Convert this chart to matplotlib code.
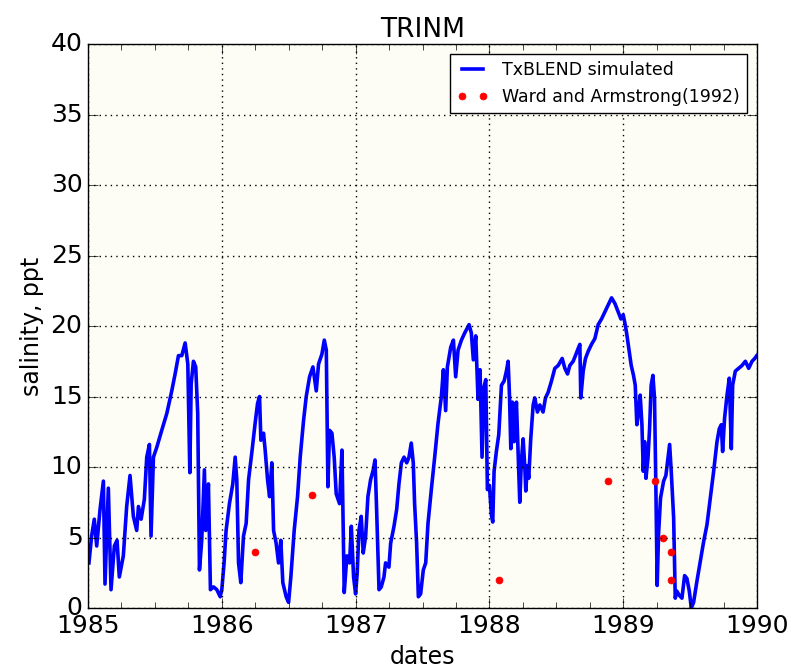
import numpy as np
import matplotlib
matplotlib.use("Agg")
import matplotlib.pyplot as plt
from matplotlib.ticker import MultipleLocator

# TxBLEND simulated salinity (decimal year, ppt)
sim_t = [1985.007, 1985.027, 1985.047, 1985.065, 1985.090, 1985.115, 1985.127, 1985.152,
         1985.172, 1985.197, 1985.217, 1985.234, 1985.264, 1985.289, 1985.314, 1985.339,
         1985.364, 1985.377, 1985.397, 1985.421, 1985.439, 1985.459, 1985.471, 1985.489,
         1985.514, 1985.551, 1985.589, 1985.626, 1985.651, 1985.676, 1985.701, 1985.726,
         1985.746, 1985.761, 1985.771, 1985.788, 1985.805, 1985.820, 1985.833, 1985.850,
         1985.870, 1985.880, 1985.900, 1985.915, 1985.938, 1985.963, 1985.988,
         1986.000, 1986.017, 1986.032, 1986.057, 1986.082, 1986.100, 1986.112, 1986.125,
         1986.142, 1986.162, 1986.182, 1986.200, 1986.224, 1986.249, 1986.267, 1986.282,
         1986.292, 1986.312, 1986.324, 1986.342, 1986.357, 1986.374, 1986.387, 1986.406,
         1986.424, 1986.441, 1986.456, 1986.481, 1986.499, 1986.516, 1986.541, 1986.566,
         1986.586, 1986.611, 1986.631, 1986.656, 1986.681, 1986.706, 1986.723, 1986.748,
         1986.766, 1986.781, 1986.793, 1986.805, 1986.823, 1986.840, 1986.855, 1986.880,
         1986.898, 1986.915, 1986.935, 1986.955, 1986.968, 1986.985,
         1987.000, 1987.012, 1987.025, 1987.042, 1987.057, 1987.075, 1987.092, 1987.112,
         1987.132, 1987.145, 1987.157, 1987.175, 1987.192, 1987.212, 1987.224, 1987.249,
         1987.262, 1987.287, 1987.307, 1987.324, 1987.342, 1987.362, 1987.382, 1987.399,
         1987.416, 1987.431, 1987.441, 1987.456, 1987.469, 1987.486, 1987.506, 1987.524,
         1987.541, 1987.566, 1987.591, 1987.616, 1987.641, 1987.656, 1987.673, 1987.686,
         1987.711, 1987.731, 1987.748, 1987.766, 1987.791, 1987.815, 1987.848, 1987.865,
         1987.880, 1987.898, 1987.915, 1987.930, 1987.945, 1987.960, 1987.973, 1987.985,
         1988.000, 1988.015, 1988.025, 1988.035, 1988.052, 1988.070, 1988.090, 1988.110,
         1988.127, 1988.140, 1988.150, 1988.160, 1988.172, 1988.185, 1988.202, 1988.214,
         1988.227, 1988.239, 1988.252, 1988.264, 1988.272, 1988.284, 1988.294, 1988.309,
         1988.327, 1988.339, 1988.359, 1988.377, 1988.401, 1988.419, 1988.439, 1988.464,
         1988.489, 1988.514, 1988.544, 1988.564, 1988.584, 1988.601, 1988.626, 1988.643,
         1988.663, 1988.676, 1988.683, 1988.701, 1988.718, 1988.738, 1988.763, 1988.788,
         1988.813, 1988.838, 1988.863, 1988.888, 1988.913, 1988.938, 1988.963, 1988.983,
         1989.000, 1989.015, 1989.027, 1989.045, 1989.060, 1989.077, 1989.090, 1989.102,
         1989.115, 1989.127, 1989.140, 1989.150, 1989.160, 1989.170, 1989.185, 1989.197,
         1989.209, 1989.222, 1989.234, 1989.244, 1989.254, 1989.264, 1989.279, 1989.302,
         1989.319, 1989.334, 1989.347, 1989.359, 1989.377, 1989.389, 1989.401, 1989.419,
         1989.439, 1989.459, 1989.476, 1989.494, 1989.509, 1989.526, 1989.551, 1989.576,
         1989.601, 1989.626, 1989.651, 1989.676, 1989.701, 1989.718, 1989.733, 1989.743,
         1989.758, 1989.776, 1989.793, 1989.808, 1989.818, 1989.838, 1989.863, 1989.888,
         1989.913, 1989.938, 1989.963, 1989.983, 1989.998]
sim_v = [3.2, 5.1, 6.3, 4.4, 7.0, 9.0, 1.7, 8.5,
         1.3, 4.4, 4.8, 2.2, 3.7, 7.2, 9.4, 6.5,
         5.5, 7.2, 6.3, 7.7, 10.7, 11.6, 5.1, 10.7,
         11.4, 12.6, 13.8, 15.4, 16.6, 17.9, 17.9, 18.8,
         17.3, 9.6, 15.9, 17.5, 17.1, 13.8, 2.7, 4.8,
         9.8, 5.5, 8.8, 1.3, 1.5, 1.3, 0.8,
         1.3, 3.2, 5.5, 7.4, 8.8, 10.7, 9.1, 3.2,
         1.8, 5.1, 6.0, 9.1, 11.0, 13.1, 14.5, 15.0,
         11.9, 12.4, 11.2, 9.1, 7.9, 10.3, 5.5, 4.6,
         3.2, 4.8, 1.8, 0.8, 0.4, 2.2, 5.5, 7.9,
         10.7, 13.3, 15.0, 16.4, 17.1, 15.4, 17.3, 18.0,
         19.0, 18.3, 8.6, 12.6, 12.4, 10.7, 8.1, 7.4,
         11.2, 1.1, 3.7, 3.2, 5.8, 2.2,
         1.0, 2.5, 5.5, 6.5, 3.9, 5.1, 7.9, 9.1,
         9.8, 10.5, 7.0, 1.3, 1.5, 2.2, 3.2, 2.9,
         4.6, 5.8, 7.0, 8.8, 10.3, 10.7, 10.3, 10.7,
         11.7, 10.3, 7.4, 4.6, 0.8, 1.0, 2.7, 3.2,
         6.0, 8.4, 10.7, 13.1, 15.0, 16.9, 14.0, 17.1,
         18.5, 19.0, 16.4, 18.3, 19.0, 19.5, 20.1, 19.5,
         17.6, 19.3, 14.8, 16.9, 10.7, 15.7, 16.2, 8.4,
         8.7, 6.6, 6.1, 9.7, 11.1, 12.3, 15.8, 16.1,
         16.8, 17.5, 15.1, 11.3, 14.6, 11.8, 14.6, 11.1,
         7.5, 10.4, 12.0, 10.1, 8.3, 10.1, 9.2, 12.0,
         14.4, 14.9, 13.9, 14.4, 13.9, 14.9, 15.3, 16.1,
         17.0, 17.2, 17.7, 17.0, 16.6, 17.2, 17.5, 17.9,
         18.4, 18.7, 14.9, 16.8, 17.7, 18.2, 18.7, 19.1,
         20.1, 20.5, 21.0, 21.5, 22.0, 21.6, 21.0, 20.5,
         20.8, 20.1, 19.4, 18.2, 17.2, 16.5, 15.8, 13.0,
         13.9, 15.1, 13.0, 9.7, 11.8, 9.2, 10.6, 12.7,
         15.8, 16.5, 14.9, 8.7, 1.6, 5.2, 7.8, 9.0,
         9.4, 10.6, 11.6, 9.7, 6.4, 0.7, 1.2, 0.9,
         0.7, 2.3, 2.1, 1.2, 0.0, 0.4, 1.9, 3.3,
         4.7, 5.9, 7.8, 9.7, 11.8, 12.7, 13.0, 11.1,
         13.5, 15.1, 16.3, 11.3, 15.8, 16.8, 17.0, 17.2,
         17.5, 17.0, 17.5, 17.7, 17.9]

# Ward and Armstrong (1992) observations
obs_t = [1986.249, 1986.673, 1988.068, 1988.885, 1989.238, 1989.295, 1989.355, 1989.355]
obs_v = [4.0, 8.0, 2.0, 9.0, 9.0, 5.0, 4.0, 2.0]

year_ticks = [1985, 1986, 1987, 1988, 1989, 1990]

plt.style.use('classic')
fig = plt.figure(figsize=(7.95, 6.72), dpi=100, facecolor='white')
ax = fig.add_axes([0.1107, 0.0952, 0.8415, 0.8393])
ax.set_facecolor('#fdfdf6')

ax.plot(sim_t, sim_v, '-', color='blue', lw=2.6, label='TxBLEND simulated')
ax.plot(obs_t, obs_v, 'o', color='red', mec='red', ms=5, label='Ward and Armstrong(1992)')

ax.set_xlim(1985, 1990)
ax.set_ylim(0, 40)
ax.set_xticks(year_ticks)
ax.set_xticklabels([str(y) for y in year_ticks])
ax.xaxis.set_minor_locator(MultipleLocator(0.25))
ax.tick_params(axis='both', which='major', labelsize=18, length=7)
ax.tick_params(axis='both', which='minor', length=4)
ax.grid(True, linestyle=':', color='k', linewidth=1)

ax.set_title('TRINM', fontsize=19)
ax.set_xlabel('dates', fontsize=17)
ax.set_ylabel('salinity, ppt', fontsize=17)

ax.legend(loc='upper right', numpoints=2, fontsize=12.5, fancybox=False,
          handlelength=1.8, borderaxespad=0.6)

fig.savefig('out.png', dpi=100, facecolor='white')
